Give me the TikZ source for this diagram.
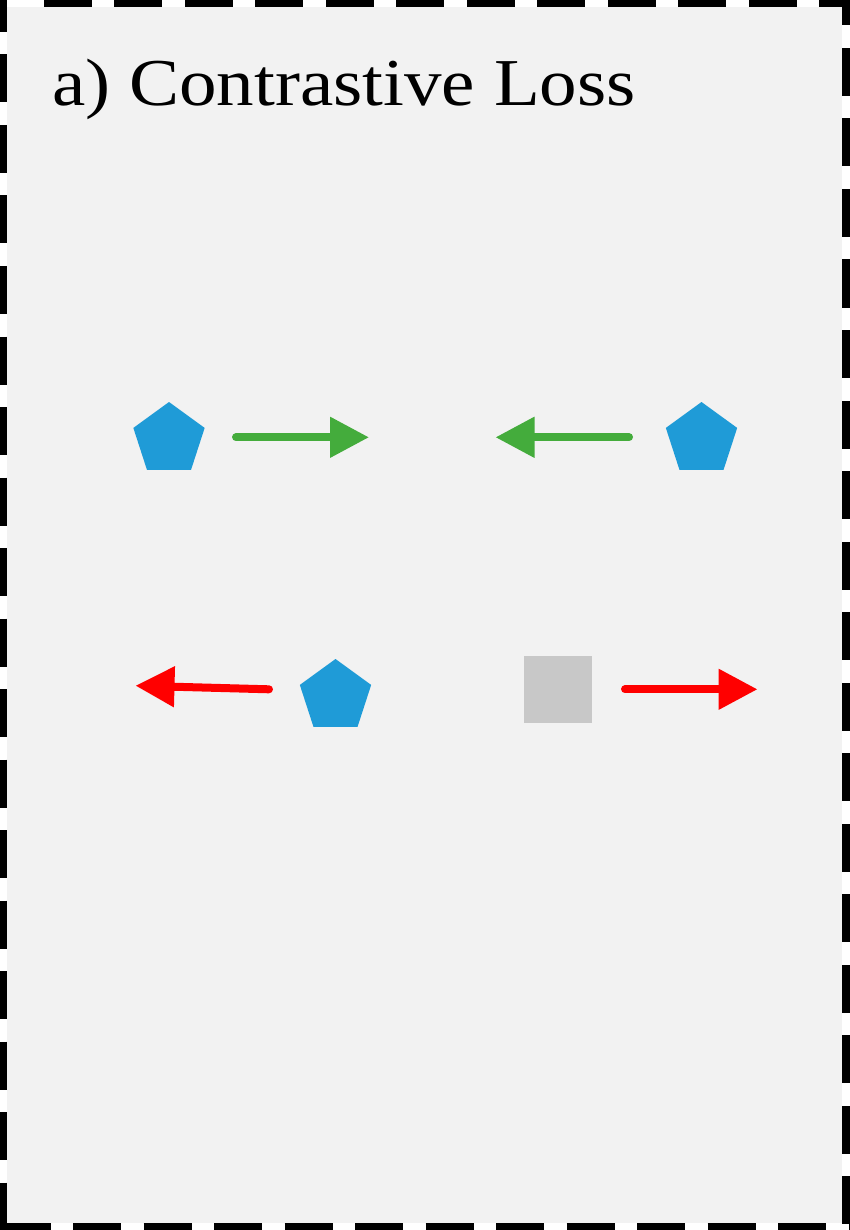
\documentclass[tikz,border=0pt]{standalone}
\usepackage{fontspec}
\setmainfont{Liberation Serif}
\newfontfamily\titlefont[FakeStretch=1.12]{Liberation Serif}
\usetikzlibrary{arrows.meta,shapes.geometric}
\definecolor{bgcol}{RGB}{242,242,242}
\definecolor{pentblue}{RGB}{31,155,215}
\definecolor{arrgreen}{RGB}{68,172,60}
\definecolor{arrred}{RGB}{255,0,0}
\definecolor{sqgray}{RGB}{200,200,200}
\tikzset{
  border/.style={line width=14pt, dash pattern=on 48pt off 22.5pt},
  pent/.style={regular polygon, regular polygon sides=5, minimum size=75pt, inner sep=0pt, fill=pentblue, draw=none},
  sq/.style={rectangle, minimum width=68pt, minimum height=67pt, inner sep=0pt, fill=sqgray, draw=none},
  pull/.style={line width=8pt, line cap=round, arrgreen, -{Triangle[length=39pt,width=39pt]}},
  push/.style={line width=8pt, line cap=round, arrred, -{Triangle[length=39pt,width=39pt]}},
  title/.style={font=\titlefont\fontsize{67}{72}\selectfont, inner sep=0pt, anchor=base west}
}
\begin{document}
\begin{tikzpicture}[x=1pt,y=-1pt]
\useasboundingbox (0,0) rectangle (849,1230);
\fill[white] (0,0) rectangle (849,1230);
\fill[bgcol] (7,7) rectangle (842,1223);
% dashed border, one side at a time
\draw[border, dash phase=48pt] (21,0) -- (849,0);
\draw[border, dash phase=16pt] (0,0) -- (0,1230);
\draw[border, dash phase=22.5pt] (849,0) -- (849,1230);
\draw[border, dash phase=68pt] (0,1230) -- (849,1230);
% title
\node[title] (ttl) at (52,106) {a) Contrastive Loss};
% shapes
\node[pent] (p1) at (169,439.5) {};
\node[pent] (p2) at (701.5,439.5) {};
\node[pent] (p3) at (335.5,696.5) {};
\node[sq] (s1) at (558,689.5) {};
% arrow end points
\coordinate (g1s) at (236,437.3);
\coordinate (g1e) at (369,437.3);
\coordinate (g2s) at (629,437.3);
\coordinate (g2e) at (495.5,437.3);
\coordinate (r1s) at (269,689.3);
\coordinate (r1e) at (135.5,685.7);
\coordinate (r2s) at (625,689.3);
\coordinate (r2e) at (757.5,689.3);
\draw[pull] (g1s) -- (g1e);
\draw[pull] (g2s) -- (g2e);
\draw[push] (r1s) -- (r1e);
\draw[push] (r2s) -- (r2e);
\end{tikzpicture}
\end{document}
